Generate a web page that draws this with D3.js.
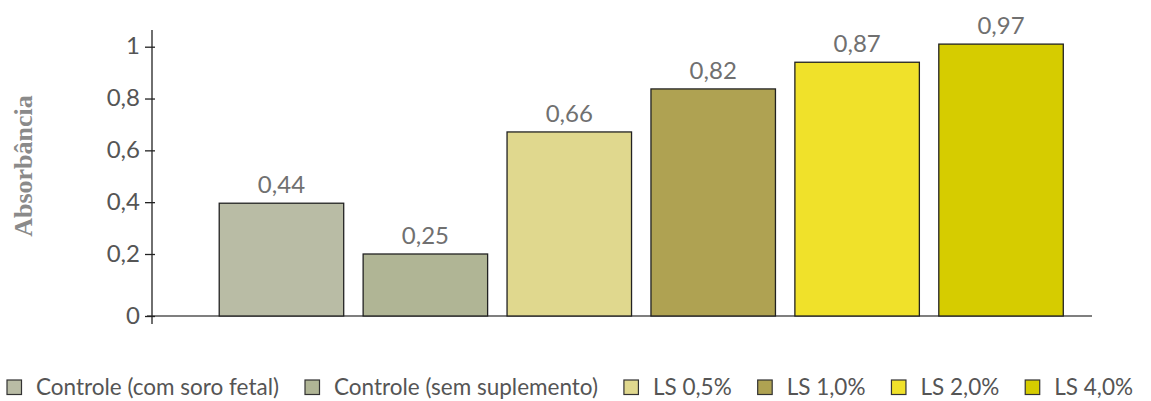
<!DOCTYPE html>
<html><head><meta charset="utf-8">
<script src="https://cdn.jsdelivr.net/npm/d3@7"></script>
<style>body{margin:0;background:#fff;} text{font-family:Lato,"Open Sans",sans-serif;}</style>
</head><body>
<svg id="c" width="1151" height="401"></svg>
<script>
const categories = ["Controle (com soro fetal)", "Controle (sem suplemento)", "LS 0,5%", "LS 1,0%", "LS 2,0%", "LS 4,0%"];
const barValues = [0.396, 0.20, 0.671, 0.837, 0.94, 1.01];
const valueLabels = ["0,44", "0,25", "0,66", "0,82", "0,87", "0,97"];
const colors = ["#b9bca5", "#b0b595", "#e0d88e", "#afa252", "#f0e12a", "#d6cc00"];
const tickValues = [0, 0.2, 0.4, 0.6, 0.8, 1];
const tickLabels = ["0", "0,2", "0,4", "0,6", "0,8", "1"];
const yTitle = "Absorbância";

const svg = d3.select("#c");
const x = d3.scaleBand().domain(categories).range([209.5, 1073]).paddingInner(0.135).paddingOuter(0.0675);
const y = d3.scaleLinear().domain([0, 0.2, 1]).range([316, 254, 46.7]);

// baseline
svg.append("line").attr("x1", 147).attr("x2", 1092).attr("y1", y(0)).attr("y2", y(0))
  .attr("stroke", "#555").attr("stroke-width", 1.3);

// bars
svg.selectAll("rect.bar").data(categories).join("rect").attr("class", "bar")
  .attr("x", d => x(d)).attr("width", x.bandwidth())
  .attr("y", (d, i) => y(barValues[i])).attr("height", (d, i) => y(0) - y(barValues[i]))
  .attr("fill", (d, i) => colors[i]).attr("stroke", "#222").attr("stroke-width", 1.3);

// value labels
svg.selectAll("text.val").data(categories).join("text").attr("class", "val")
  .attr("x", d => x(d) + x.bandwidth() / 2).attr("y", (d, i) => y(barValues[i]) - 10)
  .attr("text-anchor", "middle").attr("font-size", 24).attr("fill", "#707070")
  .text((d, i) => valueLabels[i]);

// y axis
const axis = d3.axisLeft(y).tickValues(tickValues).tickSize(10).tickPadding(5)
  .tickFormat((d, i) => tickLabels[i]);
const gA = svg.append("g").attr("transform", "translate(155,0)").call(axis);
gA.select(".domain").remove();
gA.selectAll(".tick line").attr("stroke", "#222").attr("stroke-width", 1.3);
gA.selectAll(".tick text").attr("font-size", 24).attr("fill", "#555").attr("font-family", "Lato, sans-serif").attr("dy", "0.3em");
svg.append("line").attr("x1", 152).attr("x2", 152).attr("y1", 30).attr("y2", 324)
  .attr("stroke", "#222").attr("stroke-width", 1.3);

// y title
svg.append("text").attr("transform", "translate(32,166) rotate(-90)")
  .attr("text-anchor", "middle").attr("font-size", 26).attr("font-weight", "bold")
  .style("font-family", "'Liberation Serif', 'DejaVu Serif', serif").attr("fill", "#8a8a8a")
  .text(yTitle);

// legend
let lx = 7;
const ly = 380;
categories.forEach((c, i) => {
  svg.append("rect").attr("x", lx).attr("y", ly).attr("width", 14.5).attr("height", 14.5)
    .attr("fill", colors[i]).attr("stroke", "#333").attr("stroke-width", 1.2);
  const t = svg.append("text").attr("x", lx + 29).attr("y", ly + 15)
    .attr("font-size", 22.5).attr("fill", "#555").text(c);
  lx += 29 + t.node().getComputedTextLength() + 26;
});
</script>
</body></html>
